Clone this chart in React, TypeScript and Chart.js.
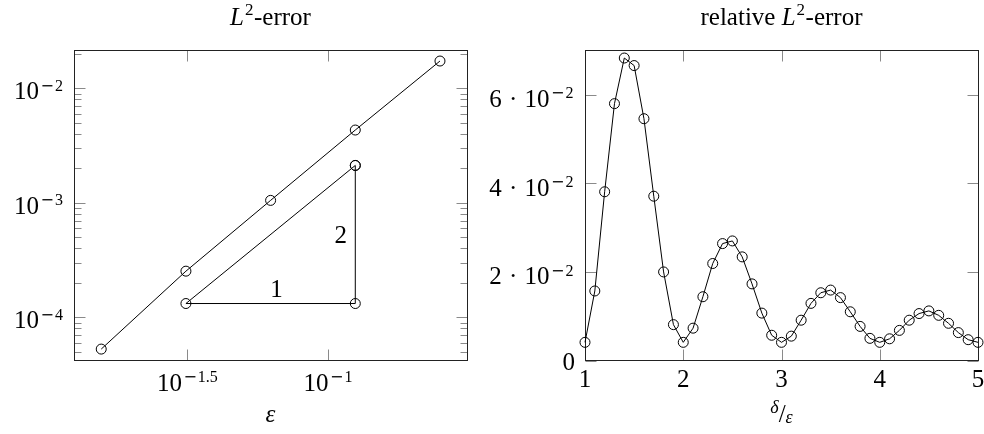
import React, { useEffect, useRef } from "react";
import { Chart, registerables } from "chart.js";

Chart.register(...registerables);

// ---------------- Left chart: L2-error vs epsilon (log-log) ----------------
const EPSILON = [1 / 64, 1 / 32, 1 / 16, 1 / 8, 1 / 4];
const L2_ERROR = [5.28e-5, 2.53e-4, 1.05e-3, 4.32e-3, 1.73e-2];
// slope triangle (order 2)
const SLOPE_X = [1 / 8, 1 / 32, 1 / 8, 1 / 8];
const SLOPE_Y = [2.12e-3, 1.32e-4, 1.32e-4, 2.12e-3];
const SLOPE_LABELS = ["1", "2"];
const SLOPE_LABEL_X = [0.0656, 1 / 8];
const SLOPE_LABEL_Y = [1.32e-4, 5.29e-4];
const LEFT_X_TICKS = [10 ** -1.5, 10 ** -1];
const LEFT_X_TICK_EXP = ["−1.5", "−1"];
const LEFT_Y_TICKS = [1e-4, 1e-3, 1e-2];
const LEFT_Y_TICK_EXP = ["−4", "−3", "−2"];
const LEFT_Y_MINOR = [
  5e-5, 6e-5, 7e-5, 8e-5, 9e-5,
  2e-4, 3e-4, 4e-4, 5e-4, 6e-4, 7e-4, 8e-4, 9e-4,
  2e-3, 3e-3, 4e-3, 5e-3, 6e-3, 7e-3, 8e-3, 9e-3,
  2e-2,
];
const LEFT_X_RANGE = [10 ** -1.903, 10 ** -0.506];
const LEFT_Y_RANGE = [10 ** -4.377, 10 ** -1.67];

// ---------------- Right chart: relative L2-error vs delta/epsilon ----------------
const RATIO = [
  1.0, 1.1, 1.2, 1.3, 1.4, 1.5, 1.6, 1.7, 1.8, 1.9,
  2.0, 2.1, 2.2, 2.3, 2.4, 2.5, 2.6, 2.7, 2.8, 2.9,
  3.0, 3.1, 3.2, 3.3, 3.4, 3.5, 3.6, 3.7, 3.8, 3.9,
  4.0, 4.1, 4.2, 4.3, 4.4, 4.5, 4.6, 4.7, 4.8, 4.9,
  5.0,
];
const REL_ERROR = [
  0.0041, 0.0157, 0.0381, 0.058, 0.0683, 0.0666, 0.0546, 0.0371, 0.02, 0.0081,
  0.0041, 0.0073, 0.0144, 0.0219, 0.0264, 0.027, 0.0234, 0.0173, 0.0107, 0.0057,
  0.0041, 0.0055, 0.0091, 0.0129, 0.0153, 0.0159, 0.0142, 0.011, 0.0077, 0.005,
  0.0041, 0.0049, 0.0068, 0.0091, 0.0106, 0.0112, 0.0102, 0.0084, 0.0063, 0.0047,
  0.0041,
];
const RIGHT_X_TICKS = [1, 2, 3, 4, 5];
const RIGHT_X_LABELS = ["1", "2", "3", "4", "5"];
const RIGHT_Y_TICKS = [0, 0.02, 0.04, 0.06];
const RIGHT_Y_MANTISSA = ["0", "2", "4", "6"];
const RIGHT_X_RANGE = [1, 5];
const RIGHT_Y_RANGE = [0, 0.07];

// ---------------- text helpers ----------------
const SERIF = '"Liberation Serif", "Times New Roman", serif';
const F_BASE = `25px ${SERIF}`;
const F_ITAL = `italic 25px ${SERIF}`;
const F_SUP = `16px ${SERIF}`;
const F_SUP_MINUS = `16px "DejaVu Sans", sans-serif`;
const F_TITLE_SUP = `17px ${SERIF}`;
const F_SMALL_ITAL = `italic 18px ${SERIF}`;

type Run = { text: string; font: string; rise?: number; gap?: number };

function supRuns(exp: string, rise: number): Run[] {
  const runs: Run[] = [];
  let rest = exp;
  if (rest.startsWith("−")) {
    runs.push({ text: "−", font: F_SUP_MINUS, rise, gap: 1.5 });
    rest = rest.slice(1);
    runs.push({ text: rest, font: F_SUP, rise, gap: 1 });
  } else {
    runs.push({ text: rest, font: F_SUP, rise, gap: 1.5 });
  }
  return runs;
}

function runsWidth(ctx: CanvasRenderingContext2D, runs: Run[]) {
  let w = 0;
  for (const r of runs) {
    ctx.font = r.font;
    w += (r.gap ?? 0) + ctx.measureText(r.text).width;
  }
  return w;
}

function drawRuns(
  ctx: CanvasRenderingContext2D,
  runs: Run[],
  x: number,
  y: number,
  align: "left" | "center" | "right"
) {
  const w = runsWidth(ctx, runs);
  let cx = align === "left" ? x : align === "center" ? x - w / 2 : x - w;
  ctx.textAlign = "left";
  ctx.textBaseline = "alphabetic";
  ctx.fillStyle = "#000";
  for (const r of runs) {
    cx += r.gap ?? 0;
    ctx.font = r.font;
    ctx.fillText(r.text, cx, y - (r.rise ?? 0));
    cx += ctx.measureText(r.text).width;
  }
}

function titleRuns(prefix: string): Run[] {
  const runs: Run[] = [];
  if (prefix) runs.push({ text: prefix, font: F_BASE });
  runs.push({ text: "L", font: F_ITAL });
  runs.push({ text: "2", font: F_TITLE_SUP, rise: 10, gap: 1 });
  runs.push({ text: "-error", font: F_BASE, gap: 0.5 });
  return runs;
}

const MAJOR = 11;
const MINOR = 7;

function drawFrame(
  chart: any,
  xMajor: number[],
  yMajor: number[],
  yMinor: number[]
) {
  const { ctx, chartArea: a, scales } = chart;
  const L = Math.floor(a.left) + 0.5;
  const R = Math.floor(a.right) + 0.5;
  const T = Math.floor(a.top) + 0.5;
  const B = Math.floor(a.bottom) + 0.5;
  ctx.save();
  ctx.lineWidth = 1;
  ctx.strokeStyle = "#8a8a8a";
  ctx.beginPath();
  for (const v of xMajor) {
    const px = Math.round(scales.x.getPixelForValue(v)) + 0.5;
    ctx.moveTo(px, B);
    ctx.lineTo(px, B - MAJOR);
    ctx.moveTo(px, T);
    ctx.lineTo(px, T + MAJOR);
  }
  for (const v of yMajor) {
    const py = Math.round(scales.y.getPixelForValue(v)) + 0.5;
    ctx.moveTo(L, py);
    ctx.lineTo(L + MAJOR, py);
    ctx.moveTo(R, py);
    ctx.lineTo(R - MAJOR, py);
  }
  for (const v of yMinor) {
    const py = Math.round(scales.y.getPixelForValue(v)) + 0.5;
    ctx.moveTo(L, py);
    ctx.lineTo(L + MINOR, py);
    ctx.moveTo(R, py);
    ctx.lineTo(R - MINOR, py);
  }
  ctx.stroke();
  ctx.strokeStyle = "#222";
  ctx.strokeRect(L, T, R - L, B - T);
  ctx.restore();
}

const lineStyle = {
  borderColor: "#000",
  borderWidth: 1,
  pointRadius: 5,
  pointHoverRadius: 5,
  pointBorderWidth: 1,
  pointBorderColor: "#000",
  pointBackgroundColor: "rgba(0,0,0,0)",
  fill: false,
  tension: 0,
  clip: false as any,
};

function leftConfig(): any {
  const plugin = {
    id: "leftDecor",
    beforeDatasetsDraw(chart: any) {
      drawFrame(chart, LEFT_X_TICKS, LEFT_Y_TICKS, LEFT_Y_MINOR);
    },
    afterDraw(chart: any) {
      const { ctx, chartArea: a, scales } = chart;
      ctx.save();
      const cx = (a.left + a.right) / 2;
      drawRuns(ctx, titleRuns(""), cx, 25, "center");
      LEFT_Y_TICKS.forEach((v, i) => {
        const py = scales.y.getPixelForValue(v);
        drawRuns(
          ctx,
          [{ text: "10", font: F_BASE }, ...supRuns(LEFT_Y_TICK_EXP[i], 8.6)],
          a.left - 11,
          py + 11,
          "right"
        );
      });
      LEFT_X_TICKS.forEach((v, i) => {
        const px = scales.x.getPixelForValue(v);
        drawRuns(
          ctx,
          [{ text: "10", font: F_BASE }, ...supRuns(LEFT_X_TICK_EXP[i], 9)],
          px,
          a.bottom + 30.5,
          "center"
        );
      });
      drawRuns(ctx, [{ text: "ε", font: F_ITAL }], cx, a.bottom + 61, "center");
      // slope triangle labels
      const p1x = scales.x.getPixelForValue(SLOPE_LABEL_X[0]);
      const p1y = scales.y.getPixelForValue(SLOPE_LABEL_Y[0]);
      drawRuns(ctx, [{ text: SLOPE_LABELS[0], font: F_BASE }], p1x, p1y - 6.6, "center");
      const p2x = scales.x.getPixelForValue(SLOPE_LABEL_X[1]);
      const p2y = scales.y.getPixelForValue(SLOPE_LABEL_Y[1]);
      drawRuns(ctx, [{ text: SLOPE_LABELS[1], font: F_BASE }], p2x - 8.3, p2y + 8.8, "right");
      ctx.restore();
    },
  };
  return {
    type: "line",
    data: {
      datasets: [
        { ...lineStyle, data: EPSILON.map((x, i) => ({ x, y: L2_ERROR[i] })) },
        { ...lineStyle, data: SLOPE_X.map((x, i) => ({ x, y: SLOPE_Y[i] })) },
      ],
    },
    options: {
      responsive: false,
      animation: false,
      devicePixelRatio: 1,
      events: [],
      layout: { padding: { left: 74, right: 13, top: 50.5, bottom: 73.5 } },
      plugins: { legend: { display: false }, tooltip: { enabled: false }, title: { display: false } },
      scales: {
        x: { type: "logarithmic", display: false, bounds: "data", min: LEFT_X_RANGE[0], max: LEFT_X_RANGE[1] },
        y: { type: "logarithmic", display: false, bounds: "data", min: LEFT_Y_RANGE[0], max: LEFT_Y_RANGE[1] },
      },
    },
    plugins: [plugin],
  };
}

function rightConfig(): any {
  const plugin = {
    id: "rightDecor",
    beforeDatasetsDraw(chart: any) {
      drawFrame(chart, RIGHT_X_TICKS, RIGHT_Y_TICKS, []);
    },
    afterDraw(chart: any) {
      const { ctx, chartArea: a, scales } = chart;
      ctx.save();
      const cx = (a.left + a.right) / 2;
      drawRuns(ctx, titleRuns("relative "), cx, 25, "center");
      RIGHT_Y_TICKS.forEach((v, i) => {
        const py = scales.y.getPixelForValue(v);
        if (v === 0) {
          drawRuns(ctx, [{ text: RIGHT_Y_MANTISSA[i], font: F_BASE }], a.left - 10, py + 9.5, "right");
        } else {
          drawRuns(
            ctx,
            [
              { text: RIGHT_Y_MANTISSA[i], font: F_BASE },
              { text: " · ", font: F_BASE, gap: 1 },
              { text: "10", font: F_BASE, gap: 1 },
              ...supRuns("−2", 8.6),
            ],
            a.left - 11.5,
            py + 12.2,
            "right"
          );
        }
      });
      RIGHT_X_TICKS.forEach((v, i) => {
        const px = scales.x.getPixelForValue(v);
        drawRuns(ctx, [{ text: RIGHT_X_LABELS[i], font: F_BASE }], px, a.bottom + 26.5, "center");
      });
      drawRuns(
        ctx,
        [
          { text: "δ", font: F_SMALL_ITAL, rise: 9 },
          { text: "/", font: F_BASE, gap: 0 },
          { text: "ε", font: F_SMALL_ITAL, gap: 0, rise: -1 },
        ],
        cx,
        a.bottom + 61,
        "center"
      );
      ctx.restore();
    },
  };
  return {
    type: "line",
    data: {
      datasets: [{ ...lineStyle, data: RATIO.map((x, i) => ({ x, y: REL_ERROR[i] })) }],
    },
    options: {
      responsive: false,
      animation: false,
      devicePixelRatio: 1,
      events: [],
      layout: { padding: { left: 105, right: 5, top: 50.5, bottom: 73.5 } },
      plugins: { legend: { display: false }, tooltip: { enabled: false }, title: { display: false } },
      scales: {
        x: { type: "linear", display: false, bounds: "data", min: RIGHT_X_RANGE[0], max: RIGHT_X_RANGE[1] },
        y: { type: "linear", display: false, bounds: "data", min: RIGHT_Y_RANGE[0], max: RIGHT_Y_RANGE[1] },
      },
    },
    plugins: [plugin],
  };
}

function ChartCanvas({ make, left, width }: { make: () => any; left: number; width: number }) {
  const ref = useRef<HTMLCanvasElement>(null);
  useEffect(() => {
    const chart = new Chart(ref.current as HTMLCanvasElement, make());
    return () => chart.destroy();
  }, []);
  return (
    <canvas
      ref={ref}
      width={width}
      height={434}
      style={{ position: "absolute", left, top: 0, width, height: 434, display: "block" }}
    />
  );
}

export default function App() {
  return (
    <div style={{ position: "absolute", left: 0, top: 0, width: 984, height: 434, background: "#fff", overflow: "hidden" }}>
      <ChartCanvas make={leftConfig} left={0} width={480} />
      <ChartCanvas make={rightConfig} left={480} width={504} />
    </div>
  );
}
